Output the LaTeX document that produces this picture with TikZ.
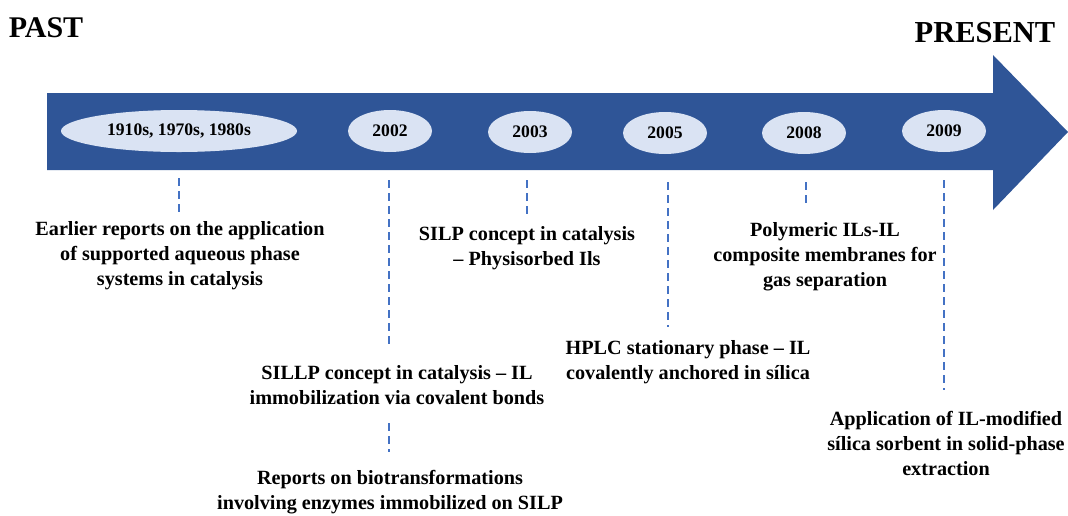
\documentclass[tikz,border=0pt]{standalone}
\usepackage{fontspec}
\setmainfont{Liberation Serif}
\usepackage{tikz}
\usetikzlibrary{shapes.geometric}
\definecolor{arrowblue}{HTML}{2F5597}
\definecolor{yearfill}{HTML}{DAE3F3}
\definecolor{guideblue}{HTML}{4472C4}

\begin{document}
\begin{tikzpicture}[x=1pt,y=-1pt]
        \tikzstyle{every node} = [align=center, font=\bfseries\fontsize{20.2}{25}\selectfont]
        \tikzstyle{year} = [ellipse, fill=yearfill, inner sep=0pt, minimum width=84, minimum height=42, font=\bfseries\fontsize{17.6}{20}\selectfont]
        \tikzstyle{guide} = [guideblue, line width=1.6pt, dash pattern=on 8pt off 5pt]
        \useasboundingbox (0,0) rectangle (1068,515);
        \fill[arrowblue] (47,93) -- (993,93) -- (993,55) -- (1068,132) -- (993,210) -- (993,170) -- (47,170) -- cycle;
        \node (past) at (46,28) {\fontsize{30}{32}\selectfont PAST};
        \node (present) at (985,33) {\fontsize{30.5}{32}\selectfont PRESENT};
        \node[year, minimum width=236] (y1910) at (179,131) {1910s, 1970s, 1980s};
        \node[year] (y2002) at (390,131) {2002};
        \node[year] (y2003) at (530,132) {2003};
        \node[year] (y2005) at (665,133) {2005};
        \node[year] (y2008) at (804,133) {2008};
        \node[year] (y2009) at (944,131) {2009};
        \node (early) at (180,256) {Earlier reports on the application\\of supported aqueous phase\\systems in catalysis};
        \node (silp) at (527,248) {SILP concept in catalysis\\– Physisorbed Ils};
        \node (poly) at (825,257) {Polymeric ILs-IL\\composite membranes for\\gas separation};
        \node (sillp) at (397,385) {SILLP concept in catalysis – IL\\immobilization via covalent bonds};
        \node (hplc) at (688,362) {HPLC stationary phase – IL\\covalently anchored in sílica};
        \node (bio) at (390,492) {Reports on biotransformations\\involving enzymes immobilized on SILP};
        \node (spe) at (946,443) {Application of IL-modified\\sílica sorbent in solid-phase\\extraction};
        \foreach \x/\from/\to in {179/178/213, 389/180/345, 389/423/452, 527/180/215, 668/182/327, 806/182/207, 944/180/390}
            \draw[guide] (\x,\from) -- (\x,\to);
    \end{tikzpicture}
\end{document}
